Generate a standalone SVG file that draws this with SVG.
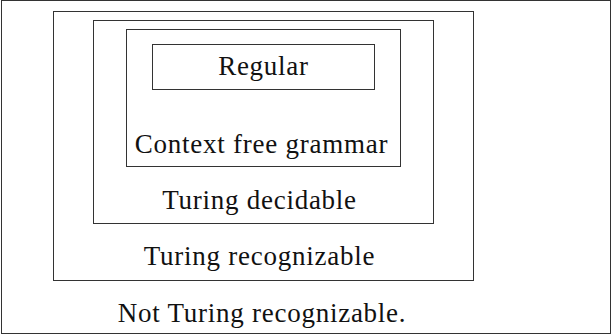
<svg xmlns="http://www.w3.org/2000/svg" width="612" height="334" viewBox="0 0 612 334">
<style>
.b{fill:none;stroke:#333;stroke-width:1}
</style>
<rect x="0" y="0" width="612" height="334" fill="#fff"/>
<g font-family="Liberation Serif, Times New Roman, serif" font-size="27" letter-spacing="0.75" fill="#111" text-anchor="middle">
<g id="not-recognizable"><rect class="b" x="1.5" y="0.5" width="609" height="333"/><text x="262" y="322">Not Turing recognizable.</text></g>
<g id="recognizable"><rect class="b" x="53.5" y="11.5" width="420" height="269"/><text x="259.5" y="265">Turing recognizable</text></g>
<g id="decidable"><rect class="b" x="93.5" y="20.5" width="340" height="203"/><text x="259.5" y="209">Turing decidable</text></g>
<g id="cfg"><rect class="b" x="126.5" y="29.5" width="274" height="137"/><text x="261.5" y="153">Context free grammar</text></g>
<g id="regular"><rect class="b" x="152.5" y="44.5" width="222" height="45"/><text x="263.5" y="75">Regular</text></g>
</g>
<g id="connectors"></g>
</svg>
